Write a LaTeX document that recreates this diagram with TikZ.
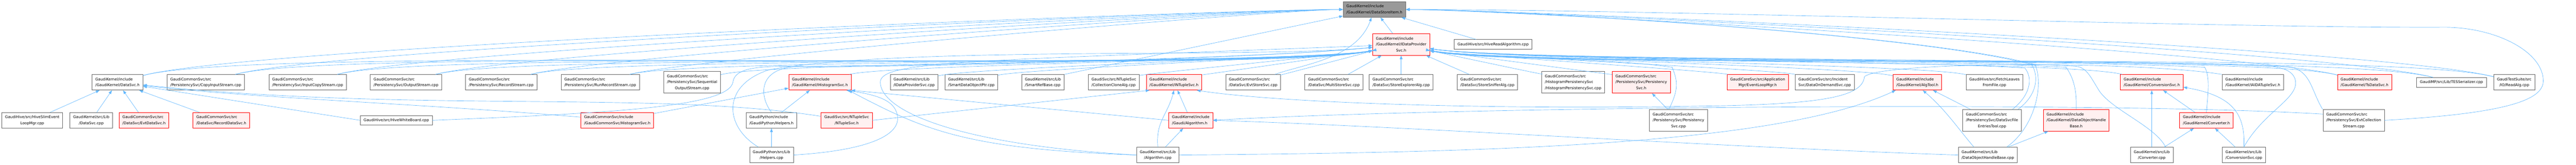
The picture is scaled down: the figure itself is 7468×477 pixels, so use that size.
\documentclass[tikz,border=0pt]{standalone}
\usepackage{fontspec}
\setmainfont{DejaVu Sans}
\usepackage{xcolor}
\usepackage{tikz}
\usetikzlibrary{arrows.meta}
\definecolor{depblue}{HTML}{63B8FF}
\definecolor{boxline}{HTML}{666666}
\definecolor{rootfill}{HTML}{999999}
\definecolor{redline}{HTML}{FF0000}
\definecolor{redfill}{HTML}{FFF0F0}
\newcommand\fname[1]{\begin{tabular}{@{}l@{}}#1\end{tabular}}
\newcommand\centred[1]{\multicolumn{1}{@{}c@{}}{#1}}

\begin{document}
\begin{tikzpicture}[x=1pt, y=1pt,
	file/.style={draw=boxline, fill=white, line width=1.1pt, inner xsep=9.5pt, inner ysep=5.2pt, font=\fontsize{10.8}{17.3}\selectfont},
	redfile/.style={file, draw=redline, fill=redfill},
	rootfile/.style={file, fill=rootfill},
	dep/.style={depblue, line width=1pt, -{Triangle[length=11pt,width=8pt]}}]
	\useasboundingbox (0,0) rectangle (7468,477);

	\node[rootfile] (root) at (3984.5,449.5) {\fname{GaudiKernel/include\\/GaudiKernel/DataStoreItem.h}};
	\node[redfile] (idps) at (4062,348) {\fname{GaudiKernel/include\\/GaudiKernel/IDataProvider\\\centred{Svc.h}}};
	\node[file] (hiveread) at (4328.5,348.5) {\fname{GaudiHive/src/HiveReadAlgorithm.cpp}};

	\node[file] (datasvch) at (340.5,238.5) {\fname{GaudiKernel/include\\/GaudiKernel/DataSvc.h}};
	\node[file] (copyin) at (596.5,238.5) {\fname{GaudiCommonSvc/src\\/PersistencySvc/CopyInputStream.cpp}};
	\node[file] (inputcopy) at (892,238.5) {\fname{GaudiCommonSvc/src\\/PersistencySvc/InputCopyStream.cpp}};
	\node[file] (outstream) at (1177,238.5) {\fname{GaudiCommonSvc/src\\/PersistencySvc/OutputStream.cpp}};
	\node[file] (recstream) at (1453,238.5) {\fname{GaudiCommonSvc/src\\/PersistencySvc/RecordStream.cpp}};
	\node[file] (runrec) at (1740,238.5) {\fname{GaudiCommonSvc/src\\/PersistencySvc/RunRecordStream.cpp}};
	\node[file] (seqout) at (2006.5,238.5) {\fname{GaudiCommonSvc/src\\/PersistencySvc/Sequential\\\centred{OutputStream.cpp}}};
	\node[redfile] (ihistsvc) at (2377,238.5) {\fname{GaudiKernel/include\\/GaudiKernel/IHistogramSvc.h}};
	\node[file] (idpscpp) at (2650,238.5) {\fname{GaudiKernel/src/Lib\\/IDataProviderSvc.cpp}};
	\node[file] (smartdop) at (2816,238.5) {\fname{GaudiKernel/src/Lib\\/SmartDataObjectPtr.cpp}};
	\node[file] (smartref) at (3023.5,238.5) {\fname{GaudiKernel/src/Lib\\/SmartRefBase.cpp}};
	\node[file] (collclone) at (3229,238.5) {\fname{GaudiSvc/src/NTupleSvc\\/CollectionCloneAlg.cpp}};
	\node[redfile] (intuple) at (3403.5,238.5) {\fname{GaudiKernel/include\\/GaudiKernel/INTupleSvc.h}};
	\node[file] (evtstore) at (3633,238.5) {\fname{GaudiCommonSvc/src\\/DataSvc/EvtStoreSvc.cpp}};
	\node[file] (multistore) at (3867,238.5) {\fname{GaudiCommonSvc/src\\/DataSvc/MultiStoreSvc.cpp}};
	\node[file] (storeexpl) at (4062,238.5) {\fname{GaudiCommonSvc/src\\/DataSvc/StoreExplorerAlg.cpp}};
	\node[file] (storesniff) at (4312,238.5) {\fname{GaudiCommonSvc/src\\/DataSvc/StoreSnifferAlg.cpp}};
	\node[file] (histpers) at (4560.5,238.5) {\fname{GaudiCommonSvc/src\\/HistogramPersistencySvc\\/HistogramPersistencySvc.cpp}};
	\node[redfile] (persh) at (4758,238.5) {\fname{GaudiCommonSvc/src\\/PersistencySvc/Persistency\\\centred{Svc.h}}};
	\node[redfile] (eventloop) at (5095.5,238.5) {\fname{GaudiCoreSvc/src/Application\\\centred{Mgr/EventLoopMgr.h}}};
	\node[file] (dataondemand) at (5290,238.5) {\fname{GaudiCoreSvc/src/Incident\\Svc/DataOnDemandSvc.cpp}};
	\node[redfile] (algtool) at (5558.5,238.5) {\fname{GaudiKernel/include\\/GaudiKernel/AlgTool.h}};
	\node[file] (fetchleaves) at (5782,238.5) {\fname{GaudiHive/src/FetchLeaves\\\centred{FromFile.cpp}}};
	\node[redfile] (conversionsvch) at (6238,238.5) {\fname{GaudiKernel/include\\/GaudiKernel/ConversionSvc.h}};
	\node[file] (iaida) at (6531,238.5) {\fname{GaudiKernel/include\\/GaudiKernel/IAIDATupleSvc.h}};
	\node[redfile] (tsdatasvc) at (6855,238.5) {\fname{GaudiKernel/include\\/GaudiKernel/TsDataSvc.h}};
	\node[file] (tesser) at (7107,238.5) {\fname{GaudiMP/src/Lib/TESSerializer.cpp}};
	\node[file] (readalg) at (7289,238.5) {\fname{GaudiTestSuite/src\\\centred{/IO/ReadAlg.cpp}}};

	\node[file] (hiveslim) at (93.5,128.5) {\fname{GaudiHive/src/HiveSlimEvent\\\centred{LoopMgr.cpp}}};
	\node[file] (datasvccpp) at (264.5,128.5) {\fname{GaudiKernel/src/Lib\\\centred{/DataSvc.cpp}}};
	\node[redfile] (evtdatasvc) at (417.5,128.5) {\fname{GaudiCommonSvc/src\\/DataSvc/EvtDataSvc.h}};
	\node[redfile] (recdatasvc) at (641.5,128.5) {\fname{GaudiCommonSvc/src\\/DataSvc/RecordDataSvc.h}};
	\node[file] (hivewb) at (1149,128.5) {\fname{GaudiHive/src/HiveWhiteBoard.cpp}};
	\node[redfile] (histsvch) at (1789.5,128.5) {\fname{GaudiCommonSvc/include\\/GaudiCommonSvc/HistogramSvc.h}};
	\node[file] (helpersh) at (2236.5,128.5) {\fname{GaudiPython/include\\/GaudiPython/Helpers.h}};
	\node[redfile] (ntuplesvch) at (2454.5,128.5) {\fname{GaudiSvc/src/NTupleSvc\\\centred{/NTupleSvc.h}}};
	\node[redfile] (algh) at (3452,128.5) {\fname{GaudiKernel/include\\/Gaudi/Algorithm.h}};
	\node[file] (persistcpp) at (4866,128.5) {\fname{GaudiCommonSvc/src\\/PersistencySvc/Persistency\\\centred{Svc.cpp}}};
	\node[file] (dsfet) at (5775,128.5) {\fname{GaudiCommonSvc/src\\/PersistencySvc/DataSvcFile\\\centred{EntriesTool.cpp}}};
	\node[redfile] (dohbh) at (6019,128.5) {\fname{GaudiKernel/include\\/GaudiKernel/DataObjectHandle\\\centred{Base.h}}};
	\node[redfile] (convh) at (6396.5,128.5) {\fname{GaudiKernel/include\\/GaudiKernel/Converter.h}};
	\node[file] (evtcoll) at (6823.5,128.5) {\fname{GaudiCommonSvc/src\\/PersistencySvc/EvtCollection\\\centred{Stream.cpp}}};

	\node[file] (helperscpp) at (2236.5,28) {\fname{GaudiPython/src/Lib\\\centred{/Helpers.cpp}}};
	\node[file] (algcpp) at (3356.5,28) {\fname{GaudiKernel/src/Lib\\\centred{/Algorithm.cpp}}};
	\node[file] (dohbcpp) at (5762.5,28) {\fname{GaudiKernel/src/Lib\\/DataObjectHandleBase.cpp}};
	\node[file] (convertercpp) at (6238,28) {\fname{GaudiKernel/src/Lib\\\centred{/Converter.cpp}}};
	\node[file] (convcpp) at (6505,28) {\fname{GaudiKernel/src/Lib\\/ConversionSvc.cpp}};

	\draw[dep] (datasvch) .. controls +(15:415) and +(-415,0) .. (root);
	\draw[dep] (copyin) .. controls +(15:397) and +(-397,0) .. (root);
	\draw[dep] (inputcopy) .. controls +(15:363) and +(-363,0) .. (root);
	\draw[dep] (outstream) .. controls +(15:329) and +(-329,0) .. (root);
	\draw[dep] (recstream) .. controls +(15:297) and +(-297,0) .. (root);
	\draw[dep] (runrec) .. controls +(15:263) and +(-263,0) .. (root);
	\draw[dep] (smartref.north east)--(root);
	\draw[dep] (evtstore) .. controls +(20:152) and +(-110:152) .. (root);
	\draw[dep] (idps)--(root);
	\draw[dep] (hiveread)--(root);
	\draw[dep] (tsdatasvc) .. controls +(165:337) and +(337,0) .. (root);
	\draw[dep] (tesser) .. controls +(165:366) and +(366,0) .. (root);
	\draw[dep] (readalg) .. controls +(165:387) and +(387,0) .. (root);

	\draw[dep] (datasvch) .. controls +(15:435) and +(192:435) .. (idps);
	\draw[dep] (copyin) .. controls +(15:405) and +(192:405) .. (idps);
	\draw[dep] (inputcopy) .. controls +(15:371) and +(192:371) .. (idps);
	\draw[dep] (outstream) .. controls +(15:338) and +(192:338) .. (idps);
	\draw[dep] (recstream) .. controls +(15:305) and +(192:305) .. (idps);
	\draw[dep] (runrec) .. controls +(15:271) and +(192:271) .. (idps);
	\draw[dep] (seqout) .. controls +(15:240) and +(192:240) .. (idps);
	\draw[dep] (ihistsvc) .. controls +(15:198) and +(192:198) .. (idps);
	\draw[dep] (idpscpp) .. controls +(15:166) and +(192:166) .. (idps);
	\draw[dep] (smartdop) .. controls +(15:146) and +(192:146) .. (idps);
	\draw[dep] (collclone) .. controls +(15:98) and +(192:98) .. (idps);
	\draw[dep] (intuple) .. controls +(15:78) and +(192:78) .. (idps);
	\draw[dep] (evtstore) .. controls +(15:52) and +(192:52) .. (idps);
	\draw[dep] (multistore)--(idps);
	\draw[dep] (storeexpl)--(idps);
	\draw[dep] (storesniff)--(idps);
	\draw[dep] (histpers) .. controls +(165:60) and +(-12:60) .. (idps);
	\draw[dep] (persh) .. controls +(165:83) and +(-12:83) .. (idps);
	\draw[dep] (eventloop) .. controls +(165:122) and +(-12:122) .. (idps);
	\draw[dep] (dataondemand) .. controls +(165:144) and +(-12:144) .. (idps);
	\draw[dep] (algtool) .. controls +(165:176) and +(-12:176) .. (idps);
	\draw[dep] (fetchleaves) .. controls +(165:202) and +(-12:202) .. (idps);
	\draw[dep] (conversionsvch) .. controls +(165:255) and +(-12:255) .. (idps);
	\draw[dep] (tsdatasvc) .. controls +(165:327) and +(-12:327) .. (idps);
	\draw[dep] (tesser) .. controls +(165:357) and +(-12:357) .. (idps);
	\draw[dep] (readalg) .. controls +(165:378) and +(-12:378) .. (idps);

	\draw[dep] (hiveslim)--(datasvch);
	\draw[dep] (datasvccpp)--(datasvch);
	\draw[dep] (evtdatasvc)--(datasvch);
	\draw[dep] (recdatasvc)--(datasvch);
	\draw[dep] (hivewb.west)--(datasvch);
	\draw[dep] (histsvch) .. controls (1250,175) and (700,195) .. (datasvch);
	\draw[dep] (ntuplesvch) .. controls (1900,215) and (1200,150) .. (datasvch);
	\draw[dep] (hivewb.east) .. controls (1800,150) and (2115,170) .. (2125,240) .. controls (2130,275) and (2180,283) .. (2260,285) .. controls +(400,0) and +(-400,-40) .. (idps);
	\draw[dep] (histsvch)--(ihistsvc);
	\draw[dep] (helpersh)--(ihistsvc);
	\draw[dep] (helpersh.north) .. controls (2200,200) and (2200,275) .. (2300,283) .. controls +(400,0) and +(-400,-40) .. (idps);
	\draw[dep] (helperscpp)--(helpersh);
	\draw[dep] ([xshift=-38pt]helperscpp.north) .. controls (2100,110) and (2090,230) .. (2230,275) .. controls +(10:400) and +(-400,-40) .. (idps);
	\draw[dep] (helperscpp.east) .. controls (2500,40) and (2610,80) .. (2602,140) .. controls (2596,180) and (2560,200) .. ([xshift=-14pt]ihistsvc.south east);
	\draw[dep] (ntuplesvch.east)--([xshift=10pt]intuple.south west);
	\draw[dep] (algh.west)--(ihistsvc.south east);
	\draw[dep] (algh)--(intuple);
	\draw[dep] (algcpp)--(algh);
	\draw[dep] (algcpp.north) .. controls +(95:74) and +(-105:74) .. (intuple.south);
	\draw[dep] (algcpp.west) .. controls (2800,45) and (2680,100) .. ([xshift=-8pt]ihistsvc.south east);
	\draw[dep] (algcpp.west) .. controls (2800,55) and (2555,150) .. (2552,238) .. controls (2550,300) and (2800,300) .. (idps);
	\draw[dep] (algcpp.east) .. controls (4300,35) and (5150,55) .. ([xshift=8pt]algtool.south west);

	\draw[dep] (persistcpp)--(persh);
	\draw[dep] ([xshift=-28pt]persistcpp.north) .. controls +(30,60) and +(15,-40) .. (4848,282) .. controls +(-200,30) and +(-12:200) .. (idps);
	\draw[dep] (iaida.north west) .. controls (6200,300) and (5460,300) .. (5405,255) .. controls (5400,200) and (5300,175) .. (4950,170) .. controls (4300,158) and (3700,180) .. ([xshift=-15pt]intuple.south east);
	\draw[dep] ([yshift=18pt]evtcoll.west) .. controls (6100,185) and (4200,168) .. (algh.east);
	\draw[dep] (dohbcpp.west) .. controls (5000,50) and (4100,110) .. (algh.east);
	\draw[dep] (dohbcpp)--(dohbh);
	\draw[dep] ([xshift=-40pt]dohbcpp.north) .. controls (5680,100) and (5640,160) .. ([xshift=-55pt]algtool.south east);
	\draw[dep] ([xshift=55pt]dohbcpp.north) .. controls (5900,110) and (5925,230) .. (5900,290) .. controls +(165:357) and +(357,0) .. (root);
	\draw[dep] (dsfet)--(algtool);
	\draw[dep] ([xshift=59pt]dsfet.north) .. controls (5885,200) and (5895,250) .. (5870,280) .. controls +(-400,25) and +(350,-50) .. (idps);
	\draw[dep] ([xshift=75pt]dsfet.north) .. controls (5905,200) and (5912,255) .. (5890,290) .. controls +(165:357) and +(357,0) .. (root);
	\draw[dep] (dohbh.north) .. controls +(2,60) and +(20,-30) .. (5990,282) .. controls +(-400,25) and +(350,-50) .. (idps);
	\draw[dep] (convh.north) .. controls +(5,60) and +(15,-30) .. (6392,282) .. controls +(-450,25) and +(350,-50) .. (idps);
	\draw[dep] (convh)--(conversionsvch);
	\draw[dep] (convertercpp)--(conversionsvch);
	\draw[dep] (convertercpp)--(convh);
	\draw[dep] ([xshift=40pt]convertercpp.north) .. controls (6250,110) and (6120,160) .. (6085,215) .. controls (6060,255) and (6050,280) .. (6020,285) .. controls +(-400,25) and +(350,-50) .. (idps);
	\draw[dep] (convcpp)--(convh);
	\draw[dep] (convcpp.north) .. controls (6510,150) and (6470,200) .. ([yshift=-14pt]conversionsvch.east);
	\draw[dep] (convcpp.north) .. controls (6560,150) and (6660,190) .. (6655,240) .. controls (6652,270) and (6620,282) .. (6580,285) .. controls +(-500,25) and +(350,-50) .. (idps);
	\draw[dep] ([xshift=-90pt]evtcoll.north) .. controls (6700,215) and (6700,270) .. (6640,283) .. controls +(-500,25) and +(350,-50) .. (idps);
	\draw[dep] (evtcoll.east) .. controls (7300,150) and (7375,195) .. (7373,245) .. controls (7370,330) and (7230,400) .. (7080,398) .. controls (6500,395) and (4800,449) .. (root.east);
\end{tikzpicture}
\end{document}
